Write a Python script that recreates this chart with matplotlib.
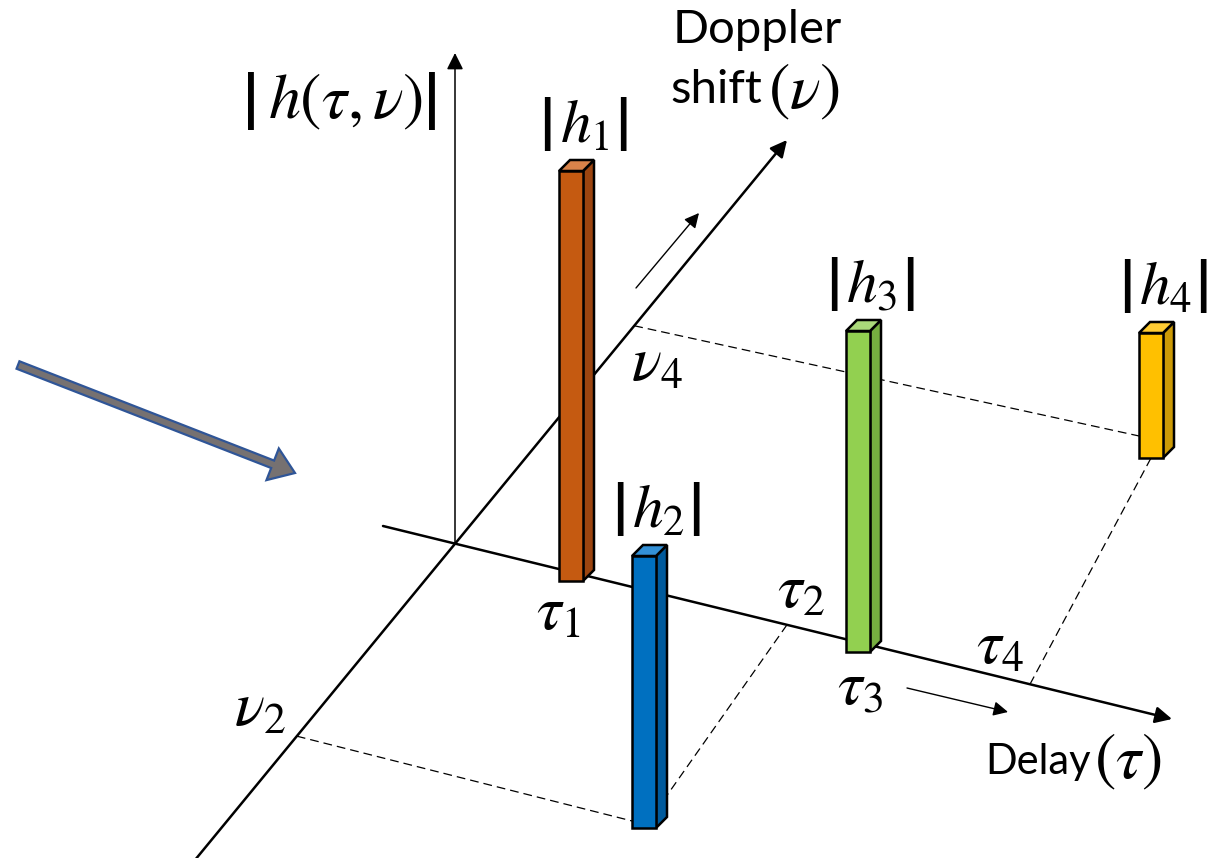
import numpy as np
import matplotlib.pyplot as plt
from matplotlib.patches import Polygon, FancyArrow

# bars: front-left corner at the base, and height (image pixels)
bar_labels = [r'$h_1$', r'$h_2$', r'$h_3$', r'$h_4$']
bar_left = [559, 632, 846, 1139]
bar_base = [581, 828, 652, 458]
bar_height = [410, 272, 321, 125]
bar_front = ['#C55A11', '#0070C0', '#92D050', '#FFC000']
bar_side = ['#9C4510', '#005A9C', '#76AE40', '#CC9A06']
bar_top = ['#D9834A', '#3390D6', '#AAD97A', '#FFCC33']

# axes of the delay-doppler plane (start, end)
delay_axis = [(383, 526), (1172, 719)]
doppler_axis = [(195, 860), (787, 140)]
amp_axis = [(455, 543), (455, 53)]

# tick positions as fraction along the axes
tau_ticks = {'tau2': 0.512, 'tau4': 0.820}
nu_ticks = {'nu2': 0.172, 'nu4': 0.742}

# dashed guides: (axis, tick, bar index, lift above base)
guides = [('nu', 'nu4', 3, 17), ('tau', 'tau4', 3, 0),
          ('nu', 'nu2', 1, 4), ('tau', 'tau2', 1, 0)]

tick_labels = [r'$\tau_1$', r'$\tau_2$', r'$\tau_3$', r'$\tau_4$', r'$\nu_2$', r'$\nu_4$']
tick_label_pos = [(558, 612), (801, 590), (860, 686), (1000, 646), (260, 708), (657, 363)]

W, D = 24, 11

plt.rcParams['mathtext.fontset'] = 'stix'
plt.rcParams['font.family'] = ['Lato', 'DejaVu Sans']

fig = plt.figure(figsize=(12.17, 8.58), dpi=100)
ax = fig.add_axes([0, 0, 1, 1])
ax.set_xlim(0, 1217)
ax.set_ylim(858, 0)
ax.set_aspect('equal')
ax.axis('off')


def along(axis, t):
    (x0, y0), (x1, y1) = axis
    return (x0 + t * (x1 - x0), y0 + t * (y1 - y0))


def arrow(p0, p1, lw=1.8, ms=25, z=2):
    ax.annotate('', xy=p1, xytext=p0,
                arrowprops=dict(arrowstyle='-|>', lw=lw, color='black',
                                mutation_scale=ms, shrinkA=0, shrinkB=0),
                zorder=z)


def bar_sign(x, y, size):
    ax.text(x, y, '|', fontsize=size, fontweight='bold', ha='center',
            va='center', zorder=4)


# dashed guide lines
for kind, tick, bi, lift in guides:
    if kind == 'nu':
        p = along(doppler_axis, nu_ticks[tick])
    else:
        p = along(delay_axis, tau_ticks[tick])
    q = (bar_left[bi] + W / 2 + (D if lift > 10 else 0), bar_base[bi] - lift)
    ax.plot([p[0], q[0]], [p[1], q[1]], color='black', lw=0.9,
            dashes=(7, 4), zorder=1)

# axes
arrow(*delay_axis)
arrow(*doppler_axis)
arrow(*amp_axis, lw=1.1)

# direction hints
arrow((907, 688), (1008, 712), lw=1.0, ms=22)
arrow((636, 288), (699, 213), lw=1.0, ms=22)

# bars
for i in range(len(bar_left)):
    x, b, h = bar_left[i], bar_base[i], bar_height[i]
    t = b - h
    front = [(x, b), (x + W, b), (x + W, t), (x, t)]
    side = [(x + W, b), (x + W + D, b - D), (x + W + D, t - D), (x + W, t)]
    top = [(x, t), (x + W, t), (x + W + D, t - D), (x + D, t - D)]
    for pts, c in [(side, bar_side[i]), (top, bar_top[i]), (front, bar_front[i])]:
        ax.add_patch(Polygon(pts, closed=True, facecolor=c, edgecolor='black',
                             lw=1.8, joinstyle='miter', zorder=3))
    cx, cy = x + 26, t - 46
    ax.text(cx, cy, bar_labels[i], fontsize=44, ha='center', va='center', zorder=4)
    bar_sign(cx - 38, cy - 1, 42)
    bar_sign(cx + 38, cy - 1, 42)

for lab, (px, py) in zip(tick_labels, tick_label_pos):
    ax.text(px, py, lab, fontsize=45, ha='center', va='center', zorder=4)

# axis titles
ax.text(757, 30, 'Doppler', fontsize=34, ha='center', va='center')
ax.text(762, 90, 'shift', fontsize=34, ha='right', va='center')
ax.text(768, 92, r'$(\nu)$', fontsize=46, ha='left', va='center')
ax.text(1091, 762, 'Delay', fontsize=30, ha='right', va='center')
ax.text(1094, 762, r'$(\tau)$', fontsize=46, ha='left', va='center')
ax.text(345, 102, r'$h(\tau,\nu)$', fontsize=46, ha='center', va='center')
bar_sign(251, 101, 44)
bar_sign(432, 101, 44)

# big incoming arrow
ax.add_patch(FancyArrow(18, 365, 277, 108, width=8, head_width=34,
                        head_length=24, length_includes_head=True,
                        facecolor='#767171', edgecolor='#2F5597', lw=1.6,
                        zorder=2))

fig.savefig('out.png', dpi=100)
